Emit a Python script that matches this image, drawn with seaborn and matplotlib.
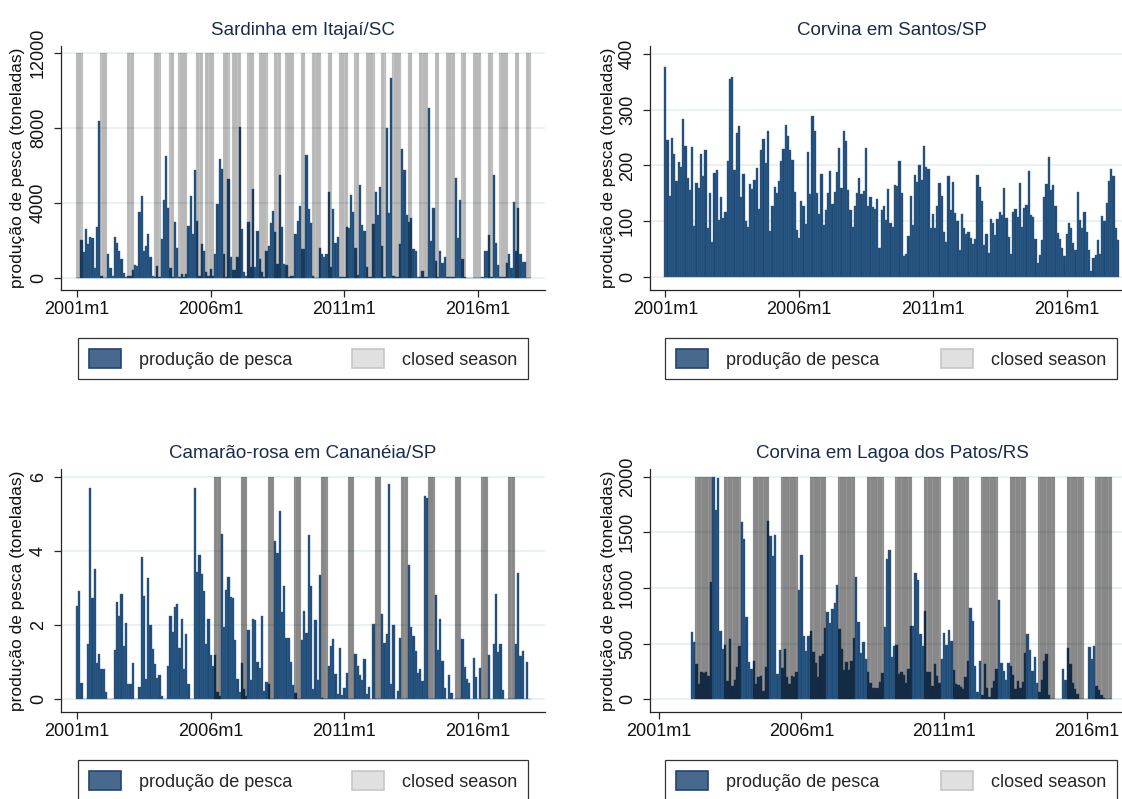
import numpy as np
import pandas as pd
import matplotlib
matplotlib.use("Agg")
import matplotlib.pyplot as plt
import seaborn as sns
from matplotlib.patches import Patch

# ---------------------------------------------------------------------------
# Monthly axis: 2001m1 .. 2017m12
# ---------------------------------------------------------------------------
months = pd.period_range("2001-01", "2017-12", freq="M")
month_labels = [f"{p.year}m{p.month}" for p in months]
tick_labels = ["2001m1", "2006m1", "2011m1", "2016m1"]

nan = np.nan

# Produção mensal (toneladas), one row per year
sardinha_itajai = [
    0, 0, 2000, 1360, 2580, 1780, 2200, 2100, 540, 2690, 8400, 100,
    0, 0, 1240, 540, 100, 2200, 1880, 1450, 1020, 230, 50, 100,
    100, 400, 700, 650, 3500, 4360, 1400, 1720, 2310, 1130, 100, 20,
    650, 20, 2080, 4140, 6510, 3750, 540, 20, 2960, 1600, 50, 200,
    20, 200, 2750, 4360, 2310, 5760, 3010, 100, 1780, 1450, 320, 100,
    480, 100, 1240, 3930, 6350, 5810, 1290, 50, 5270, 1130, 430, 430,
    1080, 8070, 2580, 320, 100, 2960, 590, 4740, 590, 2480, 1020, 320,
    50, 1450, 1720, 2910, 3550, 2420, 750, 5490, 2690, 750, 700, 50,
    100, 100, 2310, 3010, 3820, 1510, 1510, 6570, 3660, 2910, 100, 0,
    0, 1560, 1240, 1130, 1240, 4570, 560, 3660, 1880, 2150, 50, 50,
    50, 2690, 2640, 4410, 3500, 1560, 160, 4950, 2800, 2480, 590, 50,
    50, 2850, 4570, 3340, 4840, 1670, 50, 8020, 3440, 10660, 100, 50,
    50, 1780, 6890, 5760, 3340, 2960, 3180, 1510, 1400, 50, 50, 340,
    20, 20, 9100, 1940, 3710, 910, 50, 1400, 810, 1080, 20, 20,
    20, 20, 5330, 2100, 4140, 1020, 50, 0, 0, 0, 0, 0,
    0, 0, 30, 1450, 1400, 2260, 50, 5490, 1880, 700, 50, 50,
    50, 810, 1240, 540, 4040, 1400, 3710, 1240, 860, 860, 0, 0,
]

corvina_santos = [
    377, 246, 146, 250, 221, 173, 207, 198, 284, 235, 178, 156,
    234, 92, 169, 160, 221, 181, 228, 88, 151, 63, 187, 192,
    102, 144, 106, 117, 208, 356, 358, 192, 259, 270, 144, 185,
    101, 90, 167, 158, 174, 196, 122, 228, 248, 205, 262, 83,
    128, 162, 151, 173, 208, 230, 273, 252, 228, 210, 153, 84,
    70, 137, 128, 95, 225, 149, 288, 262, 151, 113, 185, 93,
    120, 151, 190, 131, 153, 189, 232, 160, 262, 244, 156, 120,
    90, 128, 151, 178, 149, 155, 232, 128, 144, 126, 122, 140,
    52, 120, 128, 102, 158, 97, 90, 165, 164, 208, 151, 38,
    41, 74, 146, 93, 183, 171, 201, 174, 235, 198, 194, 88,
    113, 88, 128, 169, 146, 81, 63, 181, 120, 171, 115, 101,
    49, 113, 88, 77, 81, 70, 59, 68, 183, 162, 137, 58,
    77, 43, 104, 97, 75, 104, 117, 111, 160, 106, 72, 41,
    117, 122, 108, 169, 90, 124, 129, 190, 111, 108, 68, 25,
    40, 66, 144, 167, 216, 156, 165, 128, 79, 68, 52, 38,
    77, 97, 88, 61, 49, 153, 102, 88, 117, 80, 49, 11,
    34, 40, 66, 41, 110, 101, 133, 173, 194, 181, 88, 66,
]

camarao_cananeia = [
    2.52, 2.92, 0.44, 0, 0, 1.49, 5.71, 2.73, 3.51, 0.98, 1.22, 0.82,
    0.82, 0.20, 0, 0, 0, 1.33, 2.62, 2.25, 2.84, 1.44, 2.06, 0.41,
    0.41, 0.98, 0, 0.02, 0.33, 3.84, 2.79, 0.55, 3.27, 2.00, 1.36, 0.95,
    0.58, 0.66, 0.09, 0, 0, 0.90, 2.25, 1.81, 2.49, 2.57, 1.38, 2.17,
    0.82, 1.76, 0.41, 0, 0, 5.71, 3.43, 3.89, 3.38, 2.92, 1.49, 2.17,
    1.19, 0.90, 1.19, 0.20, 0.10, 4.46, 1.94, 2.95, 3.30, 2.76, 2.73, 1.60,
    0.55, 0.20, 0.98, 0.28, 0.10, 1.87, 0.52, 2.17, 2.14, 1.00, 0.84, 2.25,
    0.22, 0.47, 0.41, 0, 0, 4.27, 3.94, 5.08, 2.35, 3.05, 1.65, 1.65,
    1.00, 0.39, 0.16, 0, 0, 1.60, 2.38, 1.79, 4.43, 3.06, 0.28, 2.14,
    0.52, 3.35, 0.03, 0, 0, 0.90, 1.44, 1.63, 0.68, 0.14, 1.38, 0.12,
    0.31, 0.71, 0, 0, 0, 1.22, 0.90, 0.66, 0.52, 1.09, 0.14, 0.33,
    0.02, 2.03, 0, 0, 0, 2.30, 1.52, 1.76, 5.80, 0.41, 2.00, 0.02,
    0.22, 1.65, 0, 0, 0, 3.62, 1.95, 1.71, 1.30, 0.71, 0.82, 0.50,
    5.48, 5.43, 0, 0, 0, 2.81, 1.33, 2.17, 1.03, 0.30, 0.02, 0.66,
    0.16, 0.02, 0, 0, 0, 1.63, 0.87, 0.55, 0.44, 0, 1.11, 0.60,
    0.02, 0.84, 0, 0, 0, 1.19, 0.02, 1.49, 2.84, 1.28, 1.49, 0.25,
    0, 0.02, 0, 0, 0, 1.49, 3.41, 1.17, 1.30, 0.02, 1.00, 0,
]

corvina_patos = [
    nan, nan, nan, nan, nan, nan, nan, nan, nan, nan, nan, nan,
    nan, nan, 601, 511, 319, 138, 247, 238, 247, 210, 1058, 2000,
    1699, 1988, 616, 454, 490, 165, 544, 120, 174, 292, 481, 1591,
    1437, 743, 337, 274, 346, 138, 201, 210, 75, 292, 1600, 1464,
    1284, 1473, 228, 445, 283, 454, 201, 138, 210, 201, 247, 986,
    1293, 571, 436, 571, 616, 427, 328, 201, 391, 409, 643, 788,
    689, 815, 869, 1031, 634, 454, 265, 337, 265, 346, 553, 1095,
    698, 418, 517, 364, 247, 147, 102, 102, 102, 156, 238, 652,
    1257, 1338, 382, 481, 490, 229, 247, 220, 147, 274, 659, 659,
    1131, 1068, 589, 481, 797, 247, 247, 120, 319, 210, 147, 364,
    598, 490, 625, 526, 265, 138, 129, 111, 93, 200, 346, 824,
    707, 301, 66, 346, 39, 319, 102, 21, 102, 165, 274, 896,
    328, 256, 174, 328, 301, 220, 93, 165, 102, 156, 418, 589,
    445, 256, 382, 147, 66, 174, 346, 409, 39, 5, 5, 5,
    5, 5, 274, 174, 463, 319, 147, 93, 48, 5, 5, 5,
    5, 472, 364, 481, 120, 84, 39, 9, 5, 5, 5, nan,
    nan, nan, nan, nan, nan, nan, nan, nan, nan, nan, nan, nan,
]

# Closed seasons (first month, last month)
defeso_sardinha = [
    ("2001m1", "2001m3"), ("2001m12", "2002m2"), ("2002m12", "2003m2"),
    ("2003m12", "2004m2"), ("2004m7", "2004m8"), ("2004m11", "2005m2"),
    ("2005m7", "2005m9"), ("2005m11", "2006m2"), ("2006m7", "2006m9"),
    ("2006m11", "2007m2"), ("2007m6", "2007m8"), ("2007m11", "2008m2"),
    ("2008m6", "2008m8"), ("2008m11", "2009m2"), ("2009m6", "2009m7"),
    ("2009m11", "2010m2"), ("2010m6", "2010m7"), ("2010m11", "2011m2"),
    ("2011m6", "2011m7"), ("2011m11", "2012m2"), ("2012m6", "2012m7"),
    ("2012m11", "2013m2"), ("2013m6", "2013m7"), ("2013m11", "2014m2"),
    ("2014m6", "2014m7"), ("2014m11", "2015m2"), ("2015m6", "2015m7"),
    ("2015m11", "2016m2"), ("2016m6", "2016m7"), ("2016m11", "2017m2"),
    ("2017m6", "2017m7"), ("2017m11", "2017m12"),
]
defeso_camarao = [(f"{y}m3", f"{y}m5") for y in
                  [2006, 2007, 2008, 2009, 2010, 2011, 2012, 2013, 2014, 2015, 2016, 2017]]
defeso_corvina = [(f"{y}m5", f"{y}m11") for y in
                  [2002, 2003, 2004, 2005, 2006, 2007, 2008, 2009, 2010, 2011, 2012, 2013,
                   2014, 2015, 2016]]

# ---------------------------------------------------------------------------
sns.set_theme(style="ticks")
plt.rcParams["font.family"] = ["Liberation Sans", "DejaVu Sans"]

BAR = "#1f4a77"
BAR_EDGE = "#3b6792"
GRID = "#e9f1f3"
TITLE = "#1b2b4f"
AXIS = "#262626"

W, H = 1122, 799
fig = plt.figure(figsize=(W / 100, H / 100), dpi=100)
fig.patch.set_facecolor("white")

pos = {lab: i for i, lab in enumerate(month_labels)}


def season_heights(periods, top):
    h = np.zeros(len(month_labels))
    for a, b in periods:
        h[pos[a]:pos[b] + 1] = top
    return h


def add_axes_px(left, top, right, bottom):
    return fig.add_axes([left / W, 1 - bottom / H, (right - left) / W, (bottom - top) / H])


def draw_panel(spec):
    left, top, right, bottom = spec["box"]
    ax = add_axes_px(left, top, right, bottom)
    df = pd.DataFrame({"mes": month_labels, "producao": spec["values"]}).dropna()
    sns.barplot(data=df, x="mes", y="producao", order=month_labels, ax=ax,
                color=BAR, saturation=1, width=1.0, errorbar=None,
                edgecolor=BAR_EDGE, linewidth=0.3, zorder=2)
    if spec["closed"]:
        n_before = len(ax.patches)
        shade = season_heights(spec["closed"], spec["yticks"][-1])
        sdf = pd.DataFrame({"mes": month_labels, "defeso": shade})
        sdf = sdf[sdf["defeso"] > 0]
        sns.barplot(data=sdf, x="mes", y="defeso", order=month_labels, ax=ax,
                    color="black", saturation=1, width=1.0,
                    errorbar=None, linewidth=0.3, zorder=3)
        # translucent shading, slightly darker seams between months
        for p in ax.patches[n_before:]:
            p.set_alpha(None)
            p.set_facecolor((0, 0, 0, spec["alpha"]))
            p.set_edgecolor((0, 0, 0, spec["alpha"] * 0.45))

    ax.set_xlim(*spec["xlim"])
    ax.set_ylim(*spec["ylim"])
    ax.set_xticks([pos[t] for t in tick_labels])
    ax.set_xticklabels(tick_labels)
    ax.set_yticks(spec["yticks"])
    ax.set_yticklabels([f"{v:g}" for v in spec["yticks"]])
    plt.setp(ax.get_yticklabels(), rotation=90, va="center", ha="right")
    ax.set_xlabel("")
    ax.set_ylabel("")
    ax.grid(axis="y", color=GRID, linewidth=1.4)
    ax.grid(axis="x", visible=False)
    ax.set_axisbelow(True)
    for s in ("top", "right"):
        ax.spines[s].set_visible(False)
    for s in ("left", "bottom"):
        ax.spines[s].set_color(AXIS)
        ax.spines[s].set_linewidth(0.9)
    ax.tick_params(axis="both", colors=AXIS, labelcolor="#111111", labelsize=13,
                   length=5, width=0.9)
    ax.tick_params(axis="x", pad=3)
    ax.tick_params(axis="y", pad=5)
    ax.set_title(spec["title"], color=TITLE, fontsize=13.5, pad=8)

    fig.text(spec["ylab_x"] / W, 1 - (top + bottom) / 2 / H,
             "produção de pesca (toneladas)", rotation=90,
             ha="center", va="center", fontsize=12.5, color="#111111")

    lx0, ltop, lx1 = spec["legend"]
    handles = [Patch(facecolor="#48698c", edgecolor="#1e4673", linewidth=1.2),
               Patch(facecolor="#e0e0e0", edgecolor="#c6c6c6", linewidth=1.2)]
    leg = fig.legend(handles, ["produção de pesca", "closed season"],
                     loc="upper left",
                     bbox_to_anchor=(lx0 / W, 1 - ltop / H, (lx1 - lx0) / W, 0),
                     mode="expand", ncol=2, frameon=True, fancybox=False,
                     edgecolor="black", fontsize=13, handlelength=1.77,
                     handleheight=1.27, borderpad=0.6, handletextpad=1.0,
                     borderaxespad=0, columnspacing=2.0)
    leg.get_frame().set_linewidth(0.9)
    return ax


panels = [
    dict(values=sardinha_itajai, closed=defeso_sardinha, alpha=0.24,
         title="Sardinha em Itajaí/SC", yticks=[0, 4000, 8000, 12000],
         ylim=(-660, 12390), xlim=(-7.18, 210.0), box=(61, 46, 545, 290),
         ylab_x=18, legend=(78, 338, 528)),
    dict(values=corvina_santos, closed=[], alpha=0,
         title="Corvina em Santos/SP", yticks=[0, 100, 200, 300, 400],
         ylim=(-23.3, 414.3), xlim=(-6.9, 210.2), box=(650, 46, 1134, 290),
         ylab_x=608, legend=(665, 338, 1117)),
    dict(values=camarao_cananeia, closed=defeso_camarao, alpha=0.42,
         title="Camarão-rosa em Cananéia/SP", yticks=[0, 2, 4, 6],
         ylim=(-0.342, 6.21), xlim=(-7.18, 210.0), box=(61, 469, 545, 712),
         ylab_x=18, legend=(78, 760, 528)),
    dict(values=corvina_patos, closed=defeso_corvina, alpha=0.42,
         title="Corvina em Lagoa dos Patos/RS", yticks=[0, 500, 1000, 1500, 2000],
         ylim=(-114.6, 2069.5), xlim=(-3.6, 199.7), box=(650, 469, 1134, 712),
         ylab_x=608, legend=(665, 760, 1117)),
]

for spec in panels:
    draw_panel(spec)

fig.savefig("out.png", dpi=100, facecolor="white")
